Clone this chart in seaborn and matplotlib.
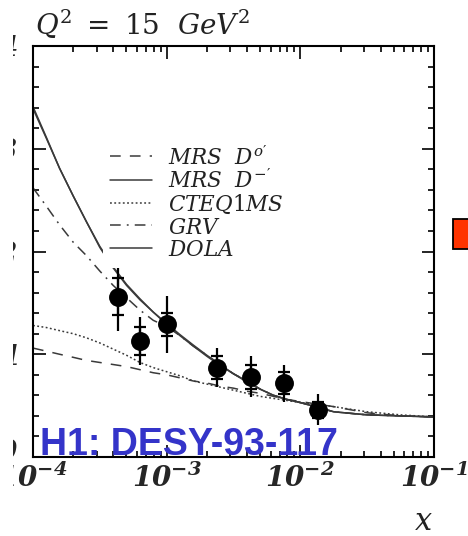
import matplotlib
matplotlib.use("Agg")
import matplotlib.pyplot as plt
import matplotlib.transforms as mtransforms
from matplotlib.patches import Rectangle
from matplotlib.ticker import FixedLocator, FixedFormatter, LogLocator, MultipleLocator, NullFormatter
import numpy as np
import pandas as pd
import seaborn as sns

# H1 charm structure function measurements
x_meas = [4.3e-4, 6.3e-4, 1.0e-3, 2.4e-3, 4.3e-3, 7.5e-3, 1.35e-2]
f2c_meas = [1.56, 1.13, 1.29, 0.87, 0.78, 0.72, 0.46]
err_stat = [0.18, 0.14, 0.11, 0.11, 0.12, 0.11, 0.08]
err_tot = [0.33, 0.23, 0.28, 0.19, 0.20, 0.18, 0.15]

# Model predictions sampled along x
x_model = [1.0e-4, 1.26e-4, 1.58e-4, 2.0e-4, 2.51e-4, 3.16e-4, 3.98e-4, 5.01e-4,
           6.31e-4, 7.94e-4, 1.0e-3, 1.26e-3, 1.58e-3, 2.0e-3, 2.51e-3, 3.16e-3,
           3.98e-3, 5.01e-3, 6.31e-3, 7.94e-3, 1.0e-2, 1.78e-2, 3.16e-2, 5.62e-2, 1.0e-1]
mrs_d0 = [1.06, 1.03, 1.00, 0.97, 0.94, 0.92, 0.90, 0.88, 0.85, 0.82, 0.80, 0.77, 0.74,
          0.72, 0.69, 0.67, 0.64, 0.62, 0.59, 0.56, 0.54, 0.49, 0.43, 0.40, 0.39]
mrs_dm = [3.41, 3.11, 2.81, 2.54, 2.29, 2.04, 1.84, 1.67, 1.53, 1.41, 1.30, 1.19, 1.09,
          0.99, 0.90, 0.81, 0.74, 0.66, 0.60, 0.56, 0.53, 0.44, 0.41, 0.40, 0.39]
cteq1ms = [1.28, 1.26, 1.23, 1.20, 1.16, 1.11, 1.05, 0.99, 0.92, 0.87, 0.83, 0.79, 0.74,
           0.71, 0.68, 0.65, 0.62, 0.59, 0.57, 0.55, 0.53, 0.49, 0.44, 0.41, 0.39]
grv = [2.62, 2.44, 2.26, 2.09, 1.96, 1.81, 1.67, 1.55, 1.43, 1.33, 1.27, 1.18, 1.08,
       0.99, 0.90, 0.81, 0.74, 0.66, 0.60, 0.56, 0.53, 0.44, 0.41, 0.40, 0.39]
dola = [3.39, 3.10, 2.81, 2.54, 2.29, 2.05, 1.85, 1.68, 1.54, 1.41, 1.29, 1.18, 1.08,
        0.98, 0.89, 0.81, 0.73, 0.66, 0.60, 0.56, 0.53, 0.44, 0.41, 0.40, 0.39]

model_names = [r"$\mathit{MRS\ \ D^{o\prime}}$", r"$\mathit{MRS\ \ D^{-\prime}}$",
               r"$\mathit{CTEQ1MS}$", r"$\mathit{GRV}$", r"$\mathit{DOLA}$"]
model_values = [mrs_d0, mrs_dm, cteq1ms, grv, dola]
model_styles = [(0, (7, 6)), "-", (0, (1.2, 1.6)), (0, (7, 4, 1.2, 4)), "-"]

xtick_vals = [1e-4, 1e-3, 1e-2, 1e-1]
xtick_text = [r"$\mathbfit{10^{-4}}$", r"$\mathbfit{10^{-3}}$",
              r"$\mathbfit{10^{-2}}$", r"$\mathbfit{10^{-1}}$"]
ytick_vals = [0, 1, 2, 3, 4]
ytick_text = [r"$\mathbfit{0}$", r"$\mathbfit{1}$", r"$\mathbfit{2}$",
              r"$\mathbfit{3}$", r"$\mathbfit{4}$"]

sns.set_theme(style="ticks")
plt.rcParams.update({
    "font.family": ["DejaVu Serif", "DejaVu Sans"],
    "mathtext.fontset": "custom",
    "mathtext.rm": "DejaVu Serif",
    "mathtext.it": "DejaVu Serif:italic",
    "mathtext.bf": "DejaVu Serif:bold",
    "mathtext.bfit": "DejaVu Serif:italic:bold",
    "axes.linewidth": 1.5,
    "axes.edgecolor": "black",
})

W, H = 468, 536
fig = plt.figure(figsize=(W / 100, H / 100), dpi=100)
ax = fig.add_axes([33 / W, 1 - 457 / H, (434 - 33) / W, (457 - 46) / H])
ax.set_facecolor("white")

curve_color = "#3a3a3a"
for name, vals, ls in zip(model_names, model_values, model_styles):
    df = pd.DataFrame({"x": x_model, "F2c": vals})
    sns.lineplot(data=df, x="x", y="F2c", ax=ax, color=curve_color,
                 linewidth=1.1, linestyle=ls, legend=False, zorder=2)

curve_handles = ax.lines[:len(model_names)]

# Error bars: full bar for the total error, crossbars at the statistical error
ax.errorbar(x_meas, f2c_meas, yerr=err_tot, fmt="none", ecolor="black",
            elinewidth=1.6, capsize=0, zorder=3)
ax.errorbar(x_meas, f2c_meas, yerr=err_stat, fmt="none", ecolor="black",
            elinewidth=1.6, capsize=4.5, capthick=1.6, zorder=3)
sns.scatterplot(x=x_meas, y=f2c_meas, ax=ax, color="black", s=185,
                edgecolor="black", linewidth=0, zorder=4, legend=False)

ax.set_xscale("log")
ax.set_xlim(1e-4, 1e-1)
ax.set_ylim(0, 4)
ax.xaxis.set_major_locator(FixedLocator(xtick_vals))
ax.xaxis.set_major_formatter(FixedFormatter(xtick_text))
ax.xaxis.set_minor_locator(LogLocator(base=10, subs=np.arange(2, 10), numticks=20))
ax.xaxis.set_minor_formatter(NullFormatter())
ax.yaxis.set_major_locator(FixedLocator(ytick_vals))
ax.yaxis.set_major_formatter(FixedFormatter(ytick_text))
ax.yaxis.set_minor_locator(MultipleLocator(0.2))
ax.tick_params(which="both", direction="in", top=True, right=True,
               color="black", width=1.2)
ax.tick_params(which="major", length=9)
ax.tick_params(which="minor", length=4.5)
ax.tick_params(axis="x", which="major", labelsize=20, pad=5)
ax.tick_params(axis="y", which="major", labelsize=20, pad=11)
ax.set_xlabel("")
ax.set_ylabel("")
for s in ax.spines.values():
    s.set_visible(True)
    s.set_linewidth(1.5)
    s.set_color("black")

fig.canvas.draw()
# the lowest y label sits a little above its tick
ylabels = ax.get_yticklabels()
ylabels[0].set_transform(ylabels[0].get_transform() +
                         mtransforms.ScaledTranslation(0, 7 / 100, fig.dpi_scale_trans))

leg = ax.legend(curve_handles, model_names, loc="upper left",
                bbox_to_anchor=(0.175, 0.772), fontsize=15.5, frameon=True,
                framealpha=1.0, facecolor="white", edgecolor="none",
                fancybox=False, borderaxespad=0, borderpad=0.3,
                handlelength=1.95, handleheight=1.08, handletextpad=0.75,
                labelspacing=0.0)
leg.set_zorder(5)
for t in leg.get_texts():
    t.set_color("#222222")

ax.text(0.018, 0.006, "H1: DESY-93-117", transform=ax.transAxes,
        fontsize=27, fontweight="bold", family="Liberation Sans",
        color="#3434C9", ha="left", va="baseline", zorder=1)

fig.text(35 / W, 1 - 35 / H, r"$\mathit{Q^2\ =\ 15\ \ GeV^2}$", fontsize=20,
         ha="left", va="baseline", color="#222222")
fig.text(423 / W, 1 - 530 / H, r"$\mathit{x}$", fontsize=22,
         ha="center", va="baseline", color="#222222")

fig.add_artist(Rectangle((453 / W, 1 - 249 / H), 30 / W, 30 / H,
                         transform=fig.transFigure, facecolor="#FF3300",
                         edgecolor="black", linewidth=1.3, clip_on=False))
fig.add_artist(Rectangle((0, 0), 13 / W, 1, transform=fig.transFigure,
                         facecolor="white", edgecolor="none", zorder=100))

fig.savefig("out.png", dpi=100, facecolor="white")
